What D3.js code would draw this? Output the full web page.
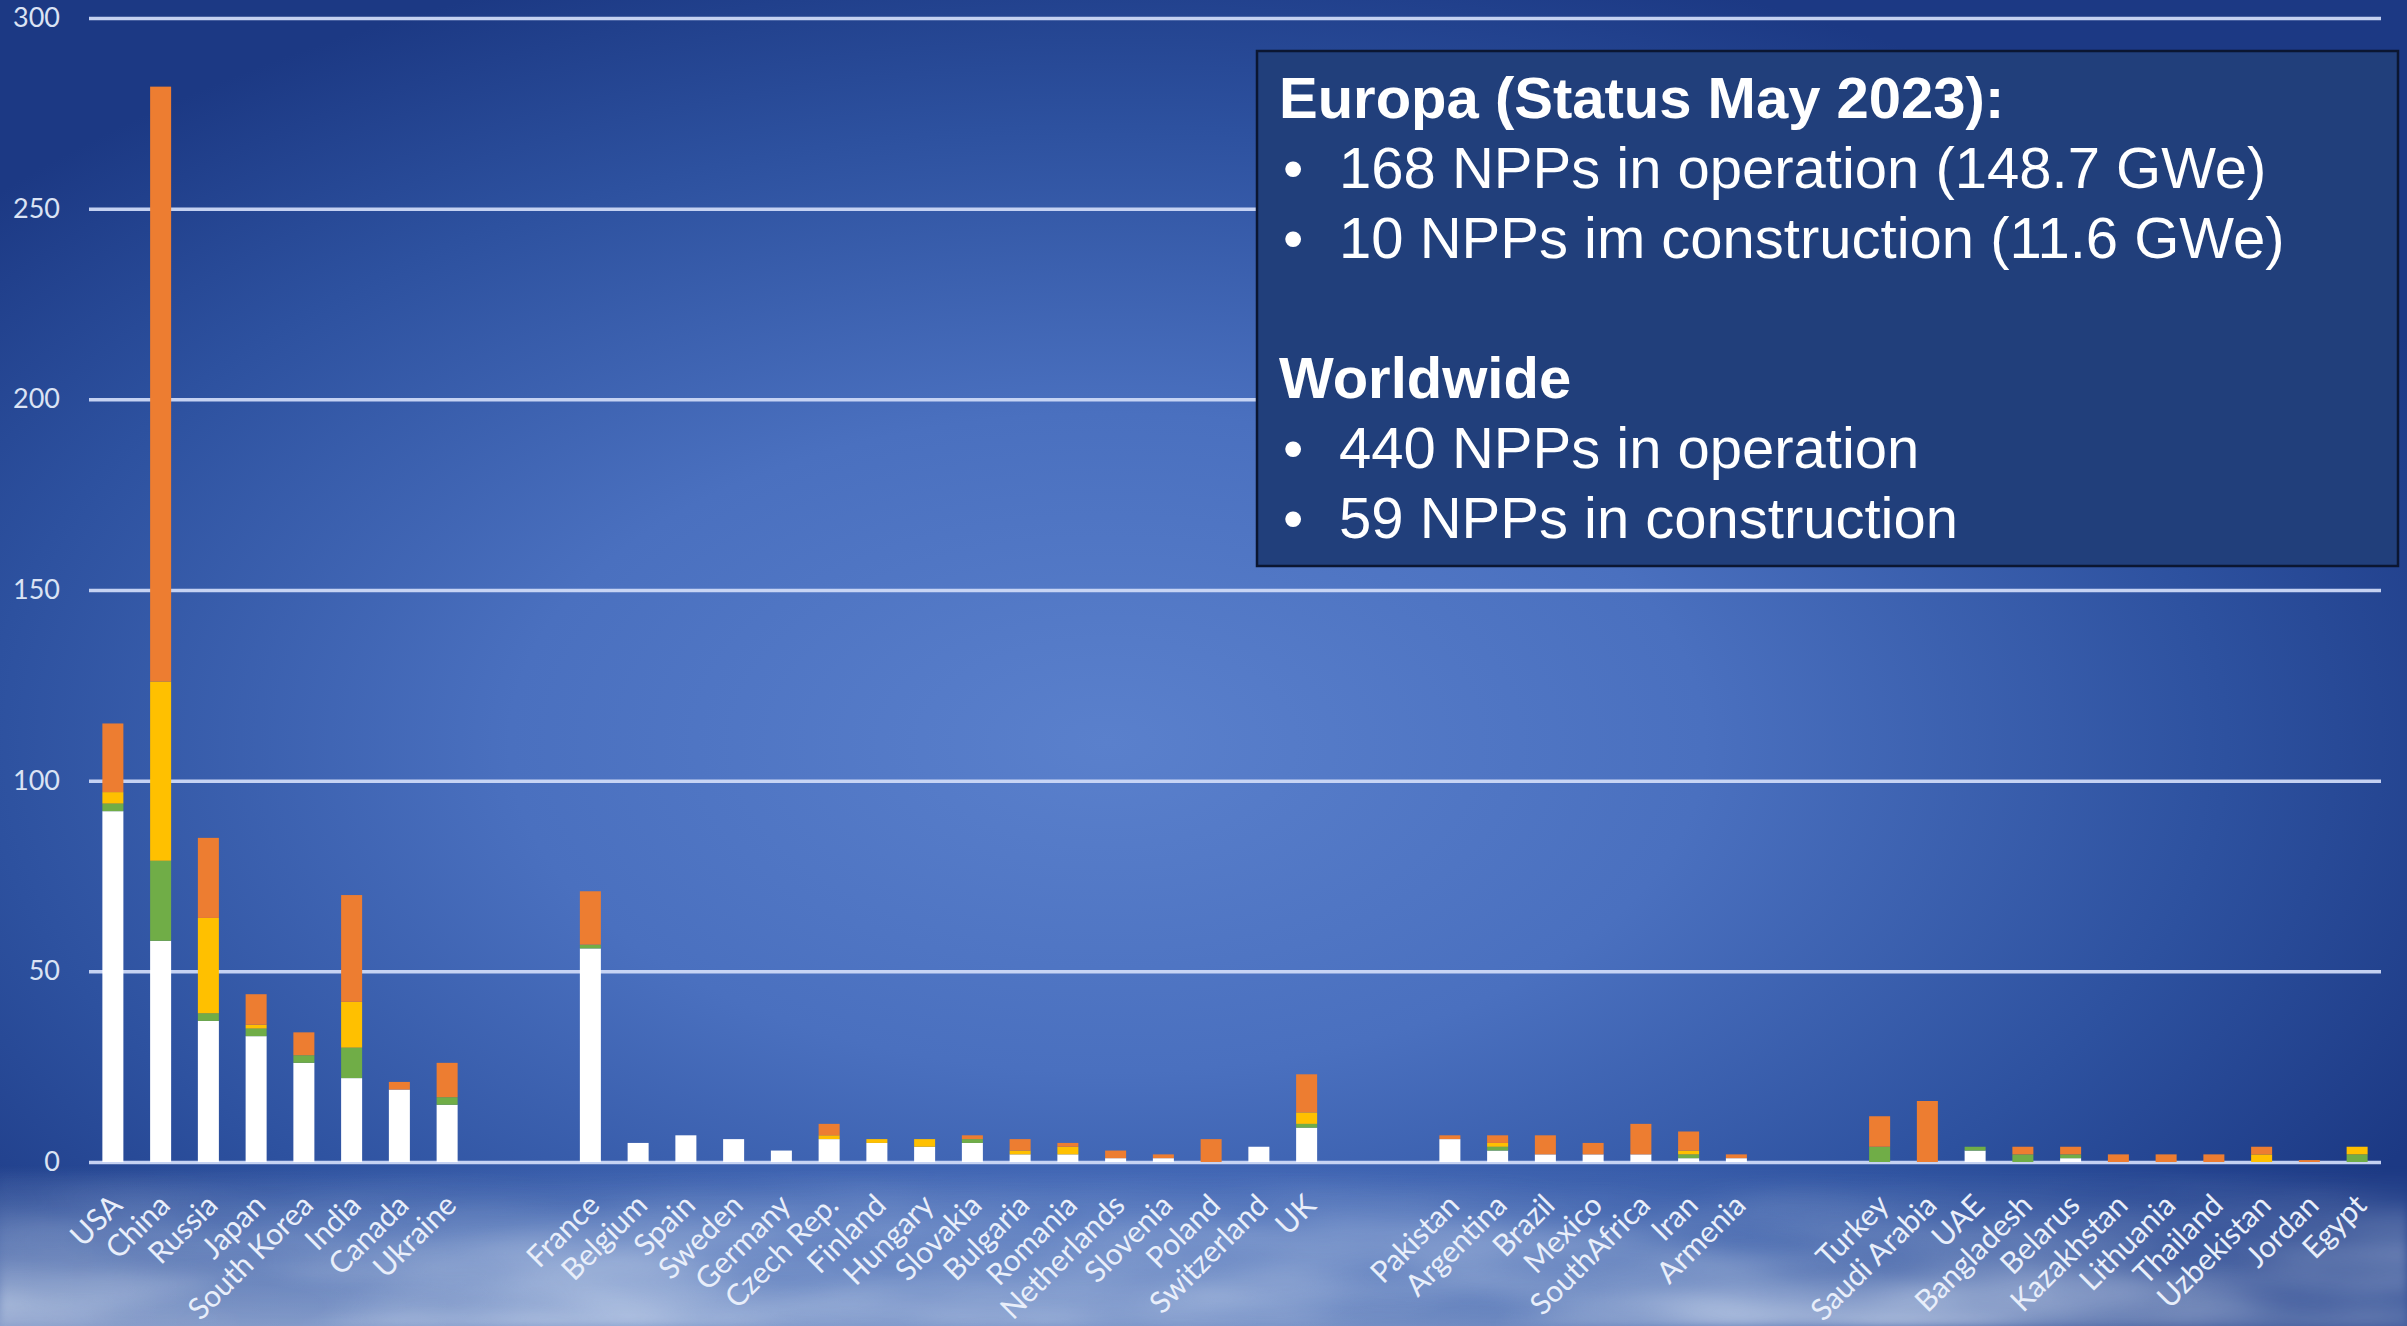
<!DOCTYPE html>
<html>
<head>
<meta charset="utf-8">
<script src="https://cdn.jsdelivr.net/npm/d3@7"></script>
<style>
  html, body { margin: 0; padding: 0; background: #1d3a85; overflow: hidden; }
  svg { display: block; }
</style>
</head>
<body>
<svg id="chart" width="2407" height="1326"></svg>
<script>
// Countries in chart order; empty strings are spacer slots between regions
const categories = [
  "USA", "China", "Russia", "Japan", "South Korea", "India", "Canada", "Ukraine",
  "", "",
  "France", "Belgium", "Spain", "Sweden", "Germany", "Czech Rep.", "Finland", "Hungary",
  "Slovakia", "Bulgaria", "Romania", "Netherlands", "Slovenia", "Poland", "Switzerland", "UK",
  "", "",
  "Pakistan", "Argentina", "Brazil", "Mexico", "SouthAfrica", "Iran", "Armenia",
  "", "",
  "Turkey", "Saudi Arabia", "UAE", "Bangladesh", "Belarus", "Kazakhstan", "Lithuania",
  "Thailand", "Uzbekistan", "Jordan", "Egypt"
];

// Number of reactors per country, by status (stacked bottom to top)
const operating = [
  92, 58, 37, 33, 26, 22, 19, 15,
  0, 0,
  56, 5, 7, 6, 3, 6, 5, 4, 5, 2, 2, 1, 1, 0, 4, 9,
  0, 0,
  6, 3, 2, 2, 2, 1, 1,
  0, 0,
  0, 0, 3, 0, 1, 0, 0, 0, 0, 0, 0
];
const underConstruction = [
  2, 21, 2, 2, 2, 8, 0, 2,
  0, 0,
  1, 0, 0, 0, 0, 0, 0, 0, 1, 0, 0, 0, 0, 0, 0, 1,
  0, 0,
  0, 1, 0, 0, 0, 1, 0,
  0, 0,
  4, 0, 1, 2, 1, 0, 0, 0, 0, 0, 2
];
const planned = [
  3, 47, 25, 1, 0, 12, 0, 0,
  0, 0,
  0, 0, 0, 0, 0, 1, 1, 2, 0, 1, 2, 0, 0, 0, 0, 3,
  0, 0,
  0, 1, 0, 0, 0, 1, 0,
  0, 0,
  0, 0, 0, 0, 0, 0, 0, 0, 2, 0, 2
];
const proposed = [
  18, 156, 21, 8, 6, 28, 2, 9,
  0, 0,
  14, 0, 0, 0, 0, 3, 0, 0, 1, 3, 1, 2, 1, 6, 0, 10,
  0, 0,
  1, 2, 5, 3, 8, 5, 1,
  0, 0,
  8, 16, 0, 2, 2, 2, 2, 2, 2, 0.5, 0
];

const yTicks = [0, 50, 100, 150, 200, 250, 300];

const seriesKeys = ["operating", "underConstruction", "planned", "proposed"];
const seriesColors = ["#ffffff", "#70ad47", "#ffc000", "#ed7d31"];

const infoLines = [
  { text: "Europa (Status May 2023):", bold: true, bullet: false },
  { text: "168 NPPs in operation (148.7 GWe)", bold: false, bullet: true },
  { text: "10 NPPs im construction (11.6 GWe)", bold: false, bullet: true },
  { text: "", bold: false, bullet: false },
  { text: "Worldwide", bold: true, bullet: false },
  { text: "440 NPPs in operation", bold: false, bullet: true },
  { text: "59 NPPs in construction", bold: false, bullet: true }
];

// ---- layout ----
const W = 2407, H = 1326;
const plot = { left: 89, right: 2381, top: 18, bottom: 1162 };

const svg = d3.select("#chart");
const defs = svg.append("defs");

// Backdrop: deep blue with a lighter glow in the middle
const bg = defs.append("radialGradient")
  .attr("id", "bgGlow").attr("cx", "46%").attr("cy", "56%").attr("r", "62%");
[["0%", "#5a80cc"], ["40%", "#4a70bf"], ["75%", "#2d519f"], ["100%", "#1c3984"]]
  .forEach(([o, c]) => bg.append("stop").attr("offset", o).attr("stop-color", c));

// Cloud haze along the bottom edge
const fade = defs.append("linearGradient")
  .attr("id", "cloudFade").attr("x1", 0).attr("y1", 0).attr("x2", 0).attr("y2", 1);
[["0%", "#fff", 0], ["40%", "#fff", 0.5], ["100%", "#fff", 0.9]]
  .forEach(([o, c, a]) => fade.append("stop").attr("offset", o).attr("stop-color", c).attr("stop-opacity", a));
const mask = defs.append("mask").attr("id", "cloudMask");
mask.append("rect").attr("x", 0).attr("y", 1170).attr("width", W).attr("height", H - 1170).attr("fill", "url(#cloudFade)");

const cloudFilter = defs.append("filter").attr("id", "clouds")
  .attr("x", 0).attr("y", 0).attr("width", "100%").attr("height", "100%")
  .attr("filterUnits", "userSpaceOnUse");
cloudFilter.append("feTurbulence")
  .attr("type", "fractalNoise").attr("baseFrequency", "0.0028 0.011")
  .attr("numOctaves", 3).attr("seed", 7).attr("result", "noise");
cloudFilter.append("feColorMatrix").attr("in", "noise").attr("type", "matrix")
  .attr("values", "0 0 0 0 0.8  0 0 0 0 0.87  0 0 0 0 0.97  0 0 0 1.6 -0.45")
  .attr("result", "tinted");
cloudFilter.append("feGaussianBlur").attr("in", "tinted").attr("stdDeviation", 4);

// Left-weighted light haze under the axis
const haze = defs.append("linearGradient")
  .attr("id", "hazeGrad").attr("x1", 0).attr("y1", 0).attr("x2", 0).attr("y2", 1);
[["0%", "#9fb8e2", 0], ["40%", "#a3bbe3", 0.4], ["100%", "#b4c7e6", 0.7]]
  .forEach(([o, c, a]) => haze.append("stop").attr("offset", o).attr("stop-color", c).attr("stop-opacity", a));
const hazeSide = defs.append("linearGradient")
  .attr("id", "hazeSide").attr("x1", 0).attr("y1", 0).attr("x2", 1).attr("y2", 0);
[["0%", "#fff", 1], ["55%", "#fff", 0.75], ["100%", "#fff", 0.35]]
  .forEach(([o, c, a]) => hazeSide.append("stop").attr("offset", o).attr("stop-color", c).attr("stop-opacity", a));
const hazeMask = defs.append("mask").attr("id", "hazeMask");
hazeMask.append("rect").attr("x", 0).attr("y", 1165).attr("width", W).attr("height", H - 1165).attr("fill", "url(#hazeSide)");

svg.append("rect").attr("width", W).attr("height", H).attr("fill", "url(#bgGlow)");
svg.append("rect").attr("x", 0).attr("y", 1165).attr("width", W).attr("height", H - 1165)
  .attr("fill", "url(#hazeGrad)").attr("mask", "url(#hazeMask)");
svg.append("rect").attr("x", 0).attr("y", 1170).attr("width", W).attr("height", H - 1170)
  .attr("filter", "url(#clouds)").attr("mask", "url(#cloudMask)").attr("opacity", 0.7);

// ---- scales ----
const x = d3.scaleBand()
  .domain(d3.range(categories.length))
  .range([plot.left, plot.right])
  .paddingInner(0.56)
  .paddingOuter(0.28);

const y = d3.scaleLinear().domain([0, 300]).range([plot.bottom, plot.top]);

// ---- gridlines and y axis ----
const yAxis = d3.axisLeft(y)
  .tickValues(yTicks)
  .tickSize(-(plot.right - plot.left))
  .tickPadding(29);

const gy = svg.append("g")
  .attr("transform", `translate(${plot.left},0)`)
  .call(yAxis);
gy.select(".domain").remove();
gy.selectAll(".tick line")
  .attr("stroke", "#cdd9f7").attr("stroke-width", 3.5).attr("stroke-opacity", 0.95);
gy.selectAll(".tick text")
  .attr("fill", "#dbe3f4")
  .style("font-family", "Lato, 'Open Sans', sans-serif")
  .style("font-size", "27px");

// ---- stacked bars ----
const rows = categories.map((c, i) => ({
  index: i,
  operating: operating[i],
  underConstruction: underConstruction[i],
  planned: planned[i],
  proposed: proposed[i]
}));
const stacked = d3.stack().keys(seriesKeys)(rows);

svg.append("g").selectAll("g")
  .data(stacked)
  .join("g")
  .attr("fill", (d, i) => seriesColors[i])
  .selectAll("rect")
  .data(d => d.filter(s => s[1] - s[0] > 0))
  .join("rect")
  .attr("x", d => x(d.data.index))
  .attr("width", x.bandwidth())
  .attr("y", d => y(d[1]))
  .attr("height", d => y(d[0]) - y(d[1]));

// ---- category labels ----
const xAxis = d3.axisBottom(x)
  .tickSize(0)
  .tickFormat(i => categories[i]);
const gx = svg.append("g")
  .attr("transform", `translate(0,${plot.bottom})`)
  .call(xAxis);
gx.select(".domain").remove();
gx.selectAll(".tick text")
  .attr("fill", "#e8eefa")
  .attr("text-anchor", "end")
  .attr("dy", 0)
  .attr("transform", "translate(9,43) rotate(-45)")
  .style("font-family", "Lato, 'Open Sans', sans-serif")
  .style("font-size", "30px");

// ---- info box ----
const box = { x: 1257, y: 51, w: 1141, h: 515 };
const info = svg.append("g");
info.append("rect")
  .attr("x", box.x).attr("y", box.y).attr("width", box.w).attr("height", box.h)
  .attr("fill", "#213f7b").attr("stroke", "#0b1631").attr("stroke-width", 2.5);

const lineH = 70, firstBaseline = 118;
infoLines.forEach((ln, i) => {
  const by = firstBaseline + i * lineH;
  if (!ln.text) return;
  if (ln.bullet) {
    info.append("text")
      .attr("x", 1283).attr("y", by)
      .attr("fill", "#fff")
      .style("font-family", "'Liberation Sans', Arial, sans-serif")
      .style("font-size", "58px")
      .text("•");
  }
  info.append("text")
    .attr("x", ln.bullet ? 1339 : 1279).attr("y", by)
    .attr("fill", "#fff")
    .style("font-family", "'Liberation Sans', Arial, sans-serif")
    .style("font-size", "58px")
    .style("font-weight", ln.bold ? "bold" : "normal")
    .text(ln.text);
});
</script>
</body>
</html>
